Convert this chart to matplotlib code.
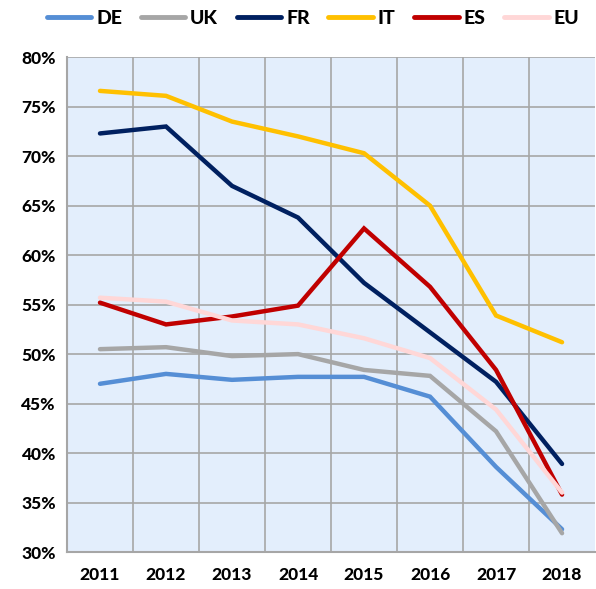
import matplotlib
matplotlib.use("Agg")
import matplotlib.pyplot as plt
from matplotlib.ticker import FuncFormatter, MultipleLocator

years = ["2011", "2012", "2013", "2014", "2015", "2016", "2017", "2018"]
DE = [47.0, 48.0, 47.4, 47.7, 47.7, 45.7, 38.6, 32.3]
UK = [50.5, 50.7, 49.8, 50.0, 48.4, 47.8, 42.2, 31.9]
FR = [72.3, 73.0, 67.0, 63.8, 57.2, 52.2, 47.2, 38.9]
IT = [76.6, 76.1, 73.5, 72.0, 70.3, 65.0, 53.9, 51.2]
ES = [55.2, 53.0, 53.8, 54.9, 62.7, 56.8, 48.4, 35.8]
EU = [55.7, 55.3, 53.4, 53.0, 51.6, 49.6, 44.4, 36.0]

series = [("DE", DE, "#558ED5"), ("UK", UK, "#A6A6A6"), ("FR", FR, "#002060"),
          ("IT", IT, "#FFC000"), ("ES", ES, "#C00000"), ("EU", EU, "#FFD7D7")]

plt.rcParams['font.family'] = ['Lato', 'DejaVu Sans']
fig = plt.figure(figsize=(5.96, 5.89), dpi=100)
ax = fig.add_axes([0.1124, 0.0628, 0.886, 0.840])
ax.set_facecolor("#E3EEFC")

x = list(range(len(years)))
for name, vals, col in series:
    ax.plot(x, vals, color=col, lw=3.2, label=name, solid_capstyle='round', solid_joinstyle='miter')

ax.set_xlim(-0.5, len(years) - 0.5)
ax.set_ylim(30, 80)
ax.yaxis.set_major_locator(MultipleLocator(5))
ax.yaxis.set_major_formatter(FuncFormatter(lambda v, p: f"{v:.0f}%"))
ax.set_xticks(x)
ax.set_xticklabels(years)
ax.set_xticks([i + 0.5 for i in x[:-1]], minor=True)
ax.grid(axis='y', which='major', color="#A6A6A6", lw=1.2)
ax.grid(axis='x', which='minor', color="#A6A6A6", lw=1.2)
ax.set_axisbelow(True)
ax.tick_params(axis='both', which='both', length=0)
ax.tick_params(axis='x', pad=11, labelsize=12.5)
ax.tick_params(axis='y', pad=8, labelsize=12.5)
for lab in ax.get_xticklabels() + ax.get_yticklabels():
    lab.set_fontweight('black')
for s in ['top', 'right']:
    ax.spines[s].set_visible(False)
for s in ['left', 'bottom']:
    ax.spines[s].set_color("#A6A6A6")
    ax.spines[s].set_linewidth(1.5)

leg = fig.legend(loc='upper center', bbox_to_anchor=(0.525, 1.013), ncol=6, frameon=False,
                 prop={'weight': 'black', 'size': 14}, handlelength=2.3, handletextpad=0.25,
                 columnspacing=0.95)
for h in leg.get_lines():
    h.set_linewidth(3.5)

fig.savefig("out.png", dpi=100)
